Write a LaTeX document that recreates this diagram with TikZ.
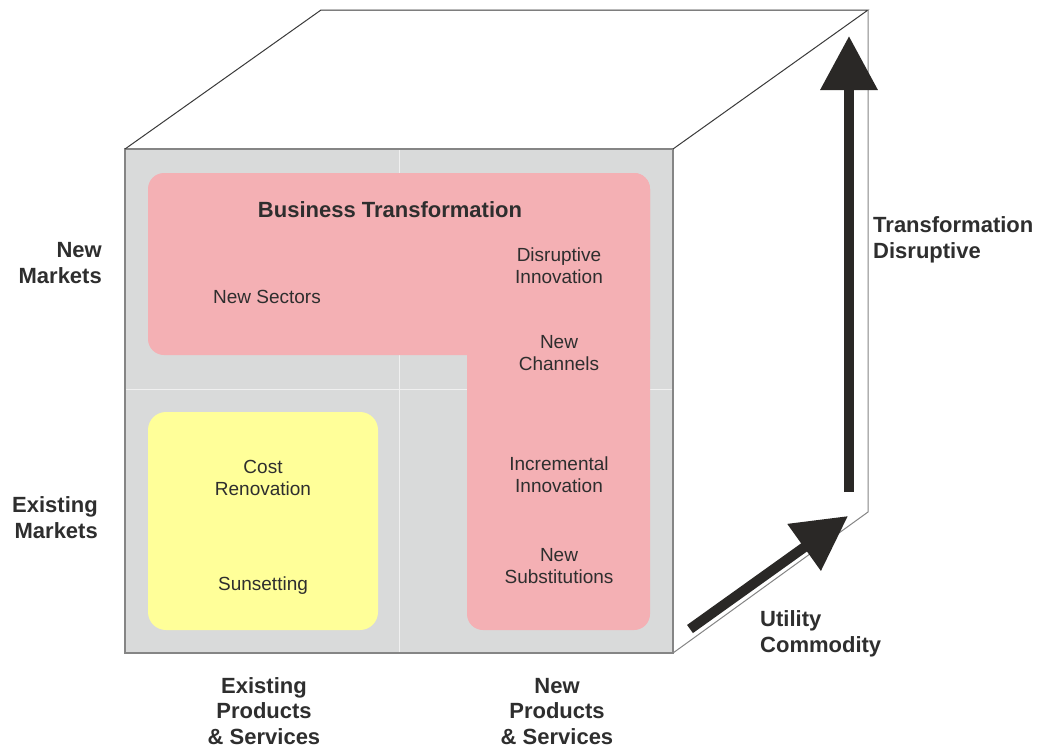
\documentclass[tikz,border=0pt]{standalone}
\usepackage{fontspec}
\setmainfont{Liberation Sans}
\usetikzlibrary{arrows.meta}
\definecolor{facegrey}{HTML}{D9DADA}
\definecolor{pinkfill}{HTML}{F4B0B4}
\definecolor{yellowfill}{HTML}{FFFF99}
\definecolor{arrowdark}{HTML}{2A2826}
\definecolor{edgedark}{HTML}{3A3A3A}
\definecolor{edgegrey}{HTML}{858585}
\definecolor{txtdark}{HTML}{2E2E2E}
\begin{document}
\begin{tikzpicture}[x=1pt,y=-1pt,
  axislabel/.style={font=\fontsize{22}{25.5}\selectfont\bfseries, text=txtdark, inner sep=0pt},
  celltext/.style={font=\fontsize{19}{21.5}\selectfont, text=txtdark, inner sep=0pt, align=center, anchor=base},
  titletext/.style={font=\fontsize{22}{25.5}\selectfont\bfseries, text=txtdark, inner sep=0pt, anchor=base},
  bigarrow/.style={draw=arrowdark, line width=10pt, -{Triangle[width=55pt,length=54pt]}},
  gridline/.style={draw=white!94!black, line width=1pt},
  pinkbox/.style={fill=pinkfill, rounded corners=16pt},
  yellowbox/.style={fill=yellowfill, rounded corners=18pt}]
\useasboundingbox (0,0) rectangle (1041,748);
% cube corners
\coordinate (FTL) at (125,149);
\coordinate (FTR) at (673,149);
\coordinate (FBR) at (673,653);
\coordinate (FBL) at (125,653);
\coordinate (BTL) at (321,10);
\coordinate (BTR) at (868,10);
\coordinate (BBR) at (868,512);
% faces
\fill[white] (FTL) -- (BTL) -- (BTR) -- (FTR) -- cycle;
\fill[white] (FTR) -- (BTR) -- (BBR) -- (FBR) -- cycle;
\fill[facegrey] (FTL) rectangle (FBR);
% grid
\draw[gridline] (399,149) -- (399,653);
\draw[gridline] (125,389) -- (673,389);
% pink L shape
\fill[pinkbox] (148,173) rectangle (650,355);
\fill[pinkbox] (467,173) rectangle (650,630);
% yellow box
\fill[yellowbox] (148,412) rectangle (378,630);
% edges
\draw[edgegrey, line width=1.6pt] (FTL) rectangle (FBR);
\draw[edgedark, line width=1pt, line join=miter] (FTL) -- (BTL) -- (BTR) -- (FTR);
\draw[edgegrey, line width=1pt] (BTR) -- (BBR) -- (FBR);
% arrows
\coordinate (upstart) at (849,492);
\coordinate (upend) at (849,36);
\coordinate (diagstart) at (690,629);
\coordinate (diagend) at (848,516);
\draw[bigarrow] (upstart) -- (upend);
\draw[bigarrow] (diagstart) -- (diagend);
% axis labels (anchor base = baseline of last line)
\node[axislabel, anchor=base east, align=right] (newmarkets) at (102,283) {New\\Markets};
\node[axislabel, anchor=base east, align=right] (existmarkets) at (98,538) {Existing\\Markets};
\node[axislabel, anchor=base, align=center] (existps) at (264,744) {Existing\\Products\\\& Services};
\node[axislabel, anchor=base, align=center] (newps) at (557,744) {New\\Products\\\& Services};
\node[axislabel, anchor=base west, align=left] (transdisr) at (873,258) {Transformation\\Disruptive};
\node[axislabel, anchor=base west, align=left] (utilcomm) at (760,652) {Utility\\Commodity};
% cell texts
\node[titletext] (bt) at (390,217) {Business Transformation};
\node[celltext] (sectors) at (267,303) {New Sectors};
\node[celltext] (disrupt) at (559,283) {Disruptive\\Innovation};
\node[celltext] (channels) at (559,370) {New\\Channels};
\node[celltext] (increm) at (559,492) {Incremental\\Innovation};
\node[celltext] (subst) at (559,583) {New\\Substitutions};
\node[celltext] (cost) at (263,495) {Cost\\Renovation};
\node[celltext] (sunset) at (263,590) {Sunsetting};
\end{tikzpicture}
\end{document}
